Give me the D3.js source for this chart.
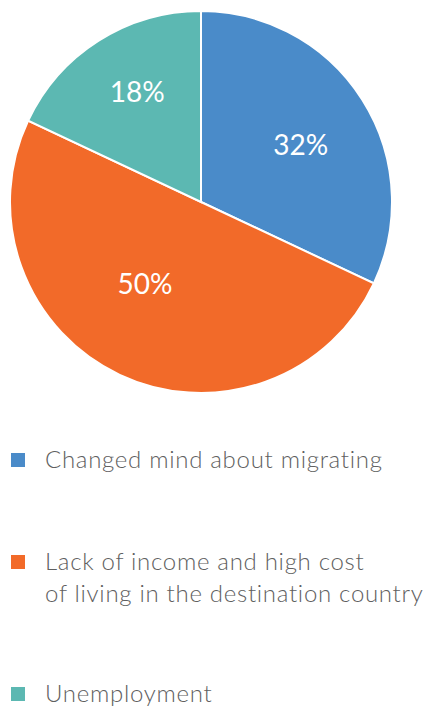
<!DOCTYPE html>
<html>
<head>
<meta charset="utf-8">
<script src="https://cdn.jsdelivr.net/npm/d3@7.9.0/dist/d3.min.js"></script>
<style>
  body { margin: 0; background: #fff; }
  svg { display: block; font-family: Lato, "Open Sans", sans-serif; }
</style>
</head>
<body>
<svg id="chart" width="427" height="709"></svg>
<script>
const categories = [
  'Changed mind about migrating',
  'Lack of income and high cost of living in the destination country',
  'Unemployment',
];
const legendLines = [
  ['Changed mind about migrating'],
  ['Lack of income and high cost', 'of living in the destination country'],
  ['Unemployment'],
];
const shares = [32, 50, 18];
const colors = ['#4a8bc9', '#f26a29', '#5cb8b2'];

const cx = 201, cy = 202, radius = 191;
// label placement tweaks per slice (fraction of radius, angle shift in rad)
const labelR = [0.6, 0.52, 0.665];
const labelShift = [0.05, 0.16, 0.04];

const svg = d3.select('#chart');

const data = categories.map((name, i) => ({ name, value: shares[i], color: colors[i], lines: legendLines[i] }));

const pie = d3.pie().value(d => d.value).sort(null);
const arc = d3.arc().innerRadius(0).outerRadius(radius);

const g = svg.append('g').attr('transform', `translate(${cx},${cy})`);

const arcs = pie(data);

g.selectAll('path')
  .data(arcs)
  .join('path')
  .attr('d', arc)
  .attr('fill', d => d.data.color)
  .attr('stroke', '#fff')
  .attr('stroke-width', 2);

g.selectAll('text')
  .data(arcs)
  .join('text')
  .attr('transform', (d, i) => {
    const a = (d.startAngle + d.endAngle) / 2 + labelShift[i];
    const r = radius * labelR[i];
    return `translate(${r * Math.sin(a)},${-r * Math.cos(a)})`;
  })
  .attr('text-anchor', 'middle')
  .attr('dy', '0.35em')
  .attr('fill', '#fff')
  .style('font-size', '28px')
  .text(d => `${d.data.value}%`);

// legend
const legendTop = [460, 562, 694];
const lineHeight = 32;

const legend = svg.append('g')
  .selectAll('g')
  .data(data)
  .join('g')
  .attr('transform', (d, i) => `translate(11, ${legendTop[i]})`);

legend.append('rect')
  .attr('x', 0)
  .attr('y', -7)
  .attr('width', 14)
  .attr('height', 14)
  .attr('fill', d => d.color);

legend.append('text')
  .attr('fill', '#606060')
  .style('font-size', '24px')
  .style('font-weight', 300)
  .style('letter-spacing', '0.7px')
  .selectAll('tspan')
  .data(d => d.lines)
  .join('tspan')
  .attr('x', 34)
  .attr('y', (d, i) => i * lineHeight)
  .attr('dy', '0.35em')
  .text(d => d);
</script>
</body>
</html>
